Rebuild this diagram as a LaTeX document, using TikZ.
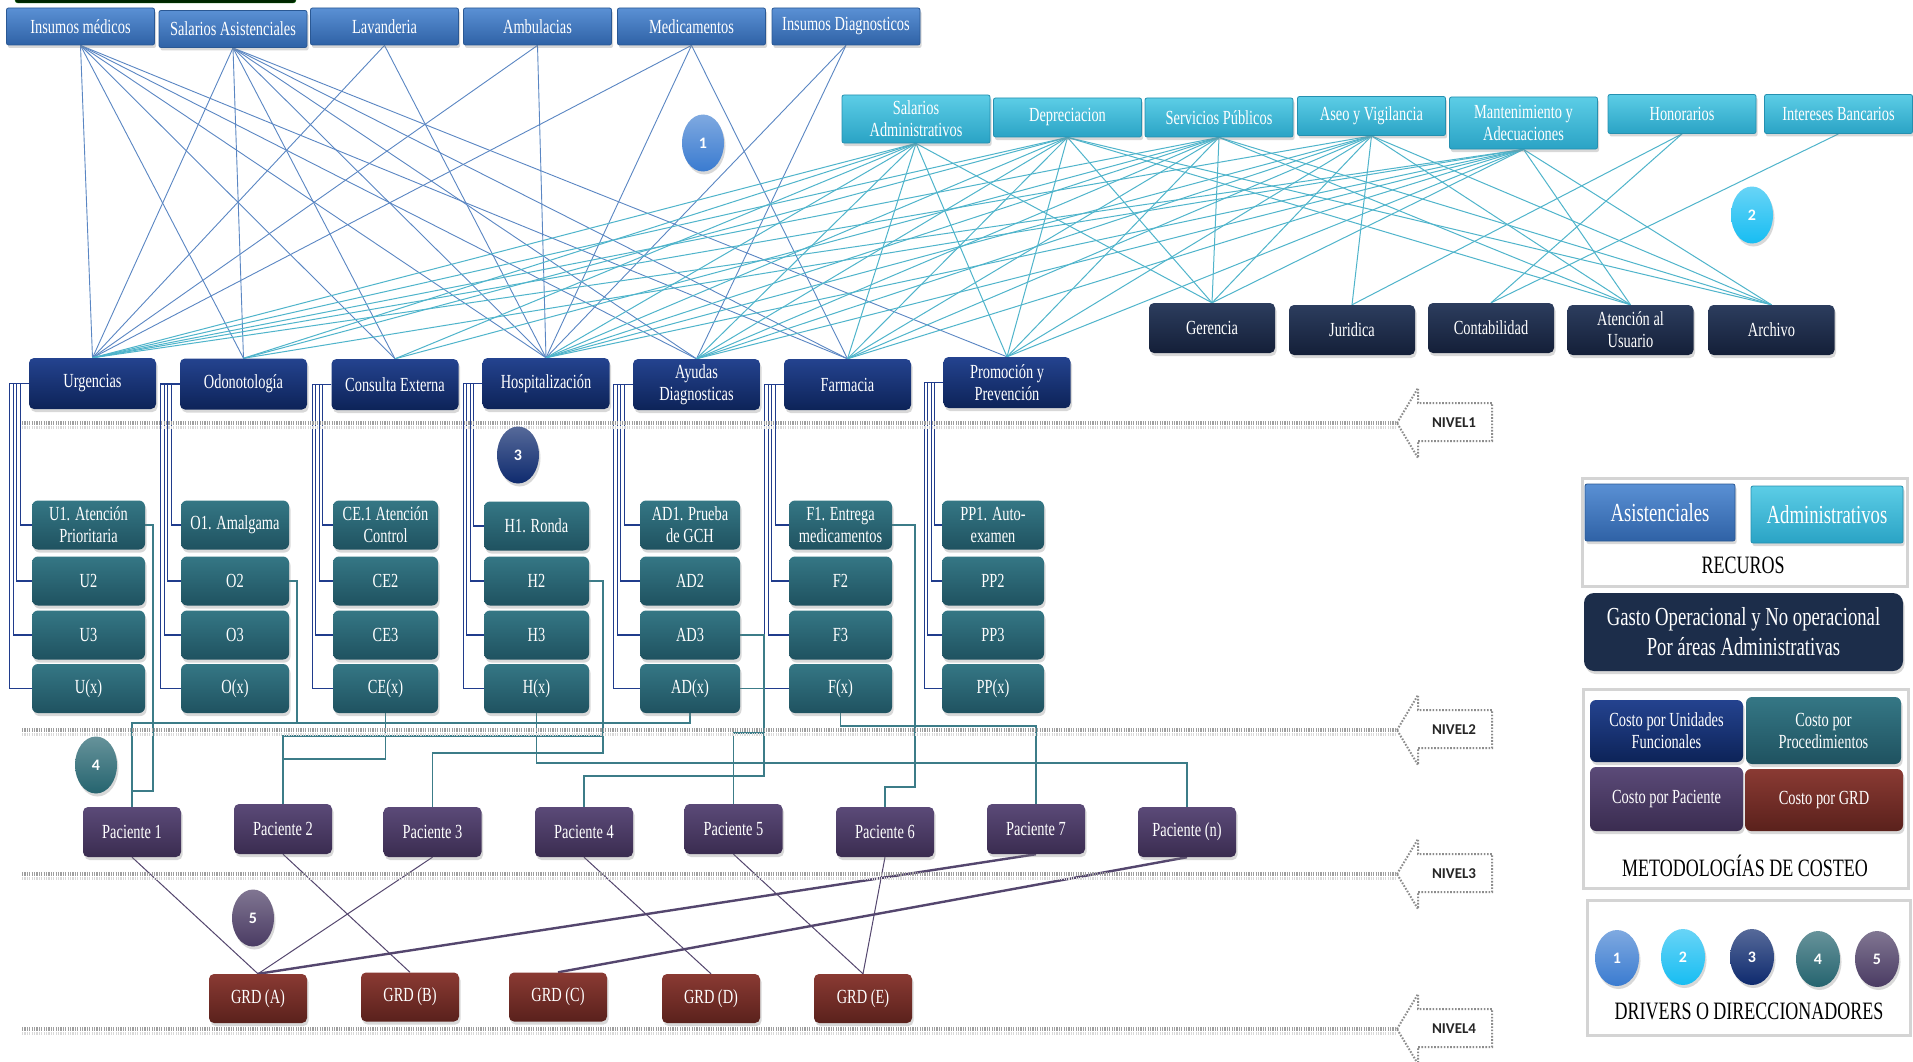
\documentclass[tikz,border=0pt]{standalone}
\usepackage{fontspec}
\setmainfont{Liberation Serif}[FakeStretch=0.72]
\newfontfamily\calfont{Carlito}
\usetikzlibrary{shapes.geometric,shadows}
\pgfdeclarelayer{bg}
\pgfdeclarelayer{paper}
\pgfsetlayers{paper,bg,main}
\newcommand\fsz[2]{\fontsize{#1}{#2}\selectfont}
\definecolor{asisT}{HTML}{5A90D4}\definecolor{asisB}{HTML}{2F62A6}\definecolor{asisD}{HTML}{2A5894}
\definecolor{admT}{HTML}{5CCDE6}\definecolor{admB}{HTML}{2AA3C5}\definecolor{admD}{HTML}{2590B0}
\definecolor{unitT}{HTML}{24438F}\definecolor{unitB}{HTML}{0D2358}
\definecolor{areaT}{HTML}{2C3D5E}\definecolor{areaB}{HTML}{141F38}
\definecolor{procT}{HTML}{357785}\definecolor{procB}{HTML}{1F5260}
\definecolor{pacT}{HTML}{5B4A78}\definecolor{pacB}{HTML}{3A2C50}
\definecolor{grdT}{HTML}{8A3A33}\definecolor{grdB}{HTML}{5A211C}
\definecolor{lblue}{HTML}{5A86C3}\definecolor{lcyan}{HTML}{4FB4CB}
\definecolor{lteal}{HTML}{3C7C88}\definecolor{lnavy}{HTML}{203C8C}
\definecolor{lpur}{HTML}{54466E}
\definecolor{d1}{HTML}{3A7BD0}\definecolor{d2}{HTML}{17BDF2}\definecolor{d3}{HTML}{0E2A6E}
\definecolor{d4}{HTML}{25646F}\definecolor{d5}{HTML}{4A3B63}
\definecolor{gasto}{HTML}{1C2D4A}
\begin{document}
\begin{tikzpicture}[x=1pt,y=-1pt,
  shd/.style={drop shadow={shadow xshift=1.5pt,shadow yshift=-3pt,opacity=0.3}},
  abox/.style={rectangle,rounded corners=2pt,text=white,align=center,inner sep=1pt,font=\fsz{20}{22},shd},
  asis/.style={abox,minimum width=148,minimum height=37,top color=asisT,bottom color=asisB,draw=asisD,line width=0.8pt},
  adm/.style={abox,minimum width=148,minimum height=39,top color=admT,bottom color=admB,draw=admD,line width=0.8pt},
  unit/.style={abox,rounded corners=5pt,minimum width=127,minimum height=51,top color=unitT,bottom color=unitB},
  area/.style={abox,rounded corners=5pt,minimum width=126,minimum height=50,top color=areaT,bottom color=areaB},
  proc/.style={abox,rounded corners=6pt,minimum height=49,top color=procT,bottom color=procB},
  pac/.style={abox,rounded corners=5pt,minimum width=98,minimum height=50,top color=pacT,bottom color=pacB},
  grd/.style={abox,rounded corners=5pt,minimum width=98,minimum height=49,top color=grdT,bottom color=grdB},
  drv/.style={ellipse,minimum width=42,minimum height=57,inner sep=0pt,text=white,font=\calfont\bfseries\fsz{16}{18},shd},
  bl/.style={draw=lblue,line width=0.9pt},
  cy/.style={draw=lcyan,line width=1pt},
  tl/.style={draw=lteal,line width=1.3pt},
  nv/.style={draw=lnavy,line width=1.1pt},
  pl/.style={draw=lpur,line width=1pt},
  plk/.style={draw=lpur,line width=2.4pt},
  lvl/.style={draw=black!38,line width=4.5pt,dash pattern=on 1.2pt off 1.2pt},
  lvla/.style={draw=black!45,line width=2pt,dash pattern=on 1.6pt off 1.6pt,fill=white},
  nivel/.style={font=\calfont\bfseries\fsz{15}{17},text=black!85,inner sep=1pt},
  legbox/.style={rectangle,draw=black!17,line width=3pt,fill=white},
  legt/.style={font=\fsz{25}{27},text=black,inner sep=1pt},
  cbox/.style={abox,rounded corners=6pt,font=\fsz{20}{22}}
]
\useasboundingbox (0,0) rectangle (1913,1062);
\begin{pgfonlayer}{paper}
\fill[white] (0,0) rectangle (1913,1062);
\end{pgfonlayer}
\draw[draw=green!40!black,fill=black!85!green,rounded corners=3pt] (15,-10) rectangle (296,3);

% level lines and arrows
\foreach \L/\n in {423/1,730/2,874/3,1029/4}{
  \draw[draw=black!15,line width=3pt,dash pattern=on 1.2pt off 1.2pt] (22,{\L+4}) -- (1397,{\L+4});
  \draw[lvl] (22,\L) -- (1397,\L);
  \draw[lvla] (1397,\L) -- (1418,{\L-35}) -- (1418,{\L-20}) -- (1492,{\L-20}) -- (1492,{\L+18}) -- (1418,{\L+18}) -- (1418,{\L+35}) -- cycle;
  \node[nivel] (niv\n) at (1454,\L) {NIVEL\n};
}

% resources (asistenciales)
\node[asis] (rIM) at (80.5,26.5) {Insumos médicos};
\node[asis] (rSA) at (233,29) {Salarios Asistenciales};
\node[asis] (rLAV) at (384.5,26.5) {Lavanderia};
\node[asis] (rAMB) at (537.5,26.5) {Ambulacias};
\node[asis] (rMED) at (691.5,26.5) {Medicamentos};
\node[asis] (rID) at (846,26.5) {Insumos Diagnosticos};

% resources (administrativos)
\node[adm,minimum height=48] (aSA) at (916,119) {Salarios\\Administrativos};
\node[adm] (aDEP) at (1067.5,117.5) {Depreciacion};
\node[adm] (aSP) at (1219,117.5) {Servicios Públicos};
\node[adm] (aAV) at (1371.5,116) {Aseo y Vigilancia};
\node[adm,minimum height=52] (aMA) at (1523.5,123) {Mantenimiento y\\Adecuaciones};
\node[adm] (aHON) at (1682,114) {Honorarios};
\node[adm] (aIB) at (1838.5,114) {Intereses Bancarios};

% administrative areas
\node[area] (gGer) at (1212,328) {Gerencia};
\node[area] (gJur) at (1352,330) {Juridica};
\node[area] (gCon) at (1491,328) {Contabilidad};
\node[area] (gAte) at (1630.5,330) {Atención al\\Usuario};
\node[area] (gArc) at (1771.5,330) {Archivo};

% functional units
\node[unit] (uU) at (92.5,383.5) {Urgencias};
\node[unit] (uO) at (243.5,384) {Odonotología};
\node[unit] (uCE) at (395,384.5) {Consulta Externa};
\node[unit] (uH) at (546,383.5) {Hospitalización};
\node[unit] (uAD) at (696.5,384.5) {Ayudas\\Diagnosticas};
\node[unit] (uF) at (847.5,384.5) {Farmacia};
\node[unit] (uPP) at (1007,382.5) {Promoción y\\Prevención};

% procedures
\node[proc,minimum width=113] (U1) at (88.5,525) {U1. Atención\\Prioritaria};
\node[proc,minimum width=108] (O1) at (235,525) {O1. Amalgama};
\node[proc,minimum width=105] (CE1) at (385.5,525) {CE.1 Atención\\Control};
\node[proc,minimum width=105] (H1) at (536.5,526) {H1. Ronda};
\node[proc,minimum width=100] (AD1) at (690,525) {AD1. Prueba\\de GCH};
\node[proc,minimum width=103] (F1) at (840.5,525) {F1. Entrega\\medicamentos};
\node[proc,minimum width=102] (PP1) at (993,525) {PP1. Auto-\\examen};
\foreach \k/\x/\w in {U/88.5/113,O/235/108,CE/385.5/105,H/536.5/105,AD/690/100,F/840.5/103,PP/993/102}{
  \node[proc,minimum width=\w] (\k2) at (\x,581) {\k2};
  \node[proc,minimum width=\w] (\k3) at (\x,635) {\k3};
  \node[proc,minimum width=\w] (\k4) at (\x,688.5) {\k(x)};
}

% patients
\node[pac] (P1) at (132,832) {Paciente 1};
\node[pac] (P2) at (283,829) {Paciente 2};
\node[pac] (P3) at (432.5,832) {Paciente 3};
\node[pac] (P4) at (584,832) {Paciente 4};
\node[pac] (P5) at (733.5,829) {Paciente 5};
\node[pac] (P6) at (885,832) {Paciente 6};
\node[pac] (P7) at (1036,829) {Paciente 7};
\node[pac] (P8) at (1187,832) {Paciente (n)};

% GRD
\node[grd] (GA) at (258,998.5) {GRD (A)};
\node[grd] (GB) at (410,997) {GRD (B)};
\node[grd] (GC) at (558,997) {GRD (C)};
\node[grd] (GD) at (711,998.5) {GRD (D)};
\node[grd] (GE) at (863,998.5) {GRD (E)};

% drivers
\node[drv,top color=d1!65!white,bottom color=d1] (c1) at (703,143) {1};
\node[drv,top color=d2!65!white,bottom color=d2] (c2) at (1752,215) {2};
\node[drv,top color=d3!70!white,bottom color=d3] (c3) at (518,455) {3};
\node[drv,top color=d4!70!white,bottom color=d4] (c4) at (96,765) {4};
\node[drv,top color=d5!70!white,bottom color=d5] (c5) at (253,918) {5};

% connectors
\begin{pgfonlayer}{bg}
\foreach \s/\t in {rIM/uU,rIM/uO,rIM/uCE,rIM/uH,rIM/uAD,rIM/uF,
  rSA/uU,rSA/uO,rSA/uCE,rSA/uH,rSA/uAD,rSA/uF,rSA/uPP,
  rLAV/uU,rLAV/uH,rAMB/uU,rAMB/uH,rMED/uU,rMED/uH,rMED/uF,rID/uH,rID/uAD}
  \draw[bl] (\s.south) -- (\t.north);
\foreach \s/\t in {aSA/uU,aSA/uO,aSA/uCE,aSA/uH,aSA/uAD,aSA/uF,aSA/uPP,aSA/gGer,
  aDEP/uU,aDEP/uO,aDEP/uH,aDEP/uAD,aDEP/uF,aDEP/uPP,aDEP/gGer,aDEP/gAte,aDEP/gArc,
  aSP/uU,aSP/uCE,aSP/uH,aSP/uAD,aSP/uF,aSP/uPP,aSP/gGer,aSP/gAte,aSP/gArc,
  aAV/uU,aAV/uH,aAV/uAD,aAV/uF,aAV/uPP,aAV/gGer,aAV/gJur,aAV/gAte,aAV/gArc,
  aMA/uU,aMA/uO,aMA/uH,aMA/uAD,aMA/uF,aMA/uPP,aMA/gGer,aMA/gAte,aMA/gArc,
  aHON/gJur,aHON/gCon,aIB/gCon}
  \draw[cy] (\s.south) -- (\t.north);
\foreach \k/\u in {U/uU,O/uO,CE/uCE,H/uH,AD/uAD,F/uF,PP/uPP}{
  \draw[nv] (\u.west) -- ++(-8.5,0) |- (\k1.west);
  \draw[nv] (\u.west) -- ++(-12,0) |- (\k2.west);
  \draw[nv] (\u.west) -- ++(-15.5,0) |- (\k3.west);
  \draw[nv] (\u.west) -- ++(-19,0) |- (\k4.west);
}
\draw[tl] (U1.east) -| (153,791) -| (P1.north);
\draw[tl] (AD4.south) |- (132,723) -- (P1.north);
\draw[tl] (O2.east) -| (297,723);
\draw[tl] (CE4.south) |- (283,759) -- (P2.north);
\draw[tl] (H2.east) -| (603,736) -| (P2.north);
\draw[tl] (H2.east) -| (603,753) -| (P3.north);
\draw[tl] (H4.south) |- (1187,763) -- (P8.north);
\draw[tl] (AD3.east) -| (764,776) -| (P4.north);
\draw[tl] (AD4.east) -| (764,733) -| (P5.north);
\draw[tl] (F1.east) -| (915,787) -| (P6.north);
\draw[tl] (F4.south) |- (1036,726) -- (P7.north);
\foreach \a/\b in {P1/GA,P2/GB,P3/GA,P4/GD,P5/GE,P6/GE}
  \draw[pl] (\a.south) -- (\b.north);
\draw[plk] (P7.south) -- (GA.north);
\draw[plk] (P8.south) -- (GC.north);
\end{pgfonlayer}

% legend
\node[legbox,minimum width=325,minimum height=108] (lrec) at (1744.5,532) {};
\node[asis,minimum width=150,minimum height=57,font=\fsz{26}{28}] (lasis) at (1660,512.5) {Asistenciales};
\node[adm,minimum width=152,minimum height=57,font=\fsz{26}{28}] (ladm) at (1827,514.5) {Administrativos};
\node[legt] (trec) at (1743,565) {RECUROS};
\node[abox,rounded corners=10pt,minimum width=319,minimum height=78,fill=gasto,font=\fsz{26}{30}] (lgas) at (1743.5,632) {Gasto Operacional y No operacional\\Por áreas Administrativas};
\node[legbox,minimum width=325,minimum height=199] (lmet) at (1745.5,788.5) {};
\node[cbox,minimum width=153,minimum height=62,top color=unitT,bottom color=unitB] (lcu) at (1666.5,731) {Costo por Unidades\\Funcionales};
\node[cbox,minimum width=155,minimum height=67,top color=procT,bottom color=procB] (lcp) at (1823.5,730.5) {Costo por\\Procedimientos};
\node[cbox,minimum width=153,minimum height=64,top color=pacT,bottom color=pacB] (lcpa) at (1666.5,799) {Costo por Paciente};
\node[cbox,minimum width=158,minimum height=62,top color=grdT,bottom color=grdB] (lcg) at (1824,800) {Costo por GRD};
\node[legt] (tmet) at (1745,866) {METODOLOGÍAS DE COSTEO};
\node[legbox,minimum width=323,minimum height=135] (ldrv) at (1749,967.5) {};
\node[drv,minimum width=44,minimum height=56,top color=d1!65!white,bottom color=d1] (l1) at (1617,958) {1};
\node[drv,minimum width=44,minimum height=56,top color=d2!65!white,bottom color=d2] (l2) at (1683,957) {2};
\node[drv,minimum width=44,minimum height=56,top color=d3!70!white,bottom color=d3] (l3) at (1752,957) {3};
\node[drv,minimum width=44,minimum height=56,top color=d4!70!white,bottom color=d4] (l4) at (1818,959) {4};
\node[drv,minimum width=44,minimum height=56,top color=d5!70!white,bottom color=d5] (l5) at (1877,959) {5};
\node[legt] (tdrv) at (1749,1011) {DRIVERS O DIRECCIONADORES};
\end{tikzpicture}
\end{document}
